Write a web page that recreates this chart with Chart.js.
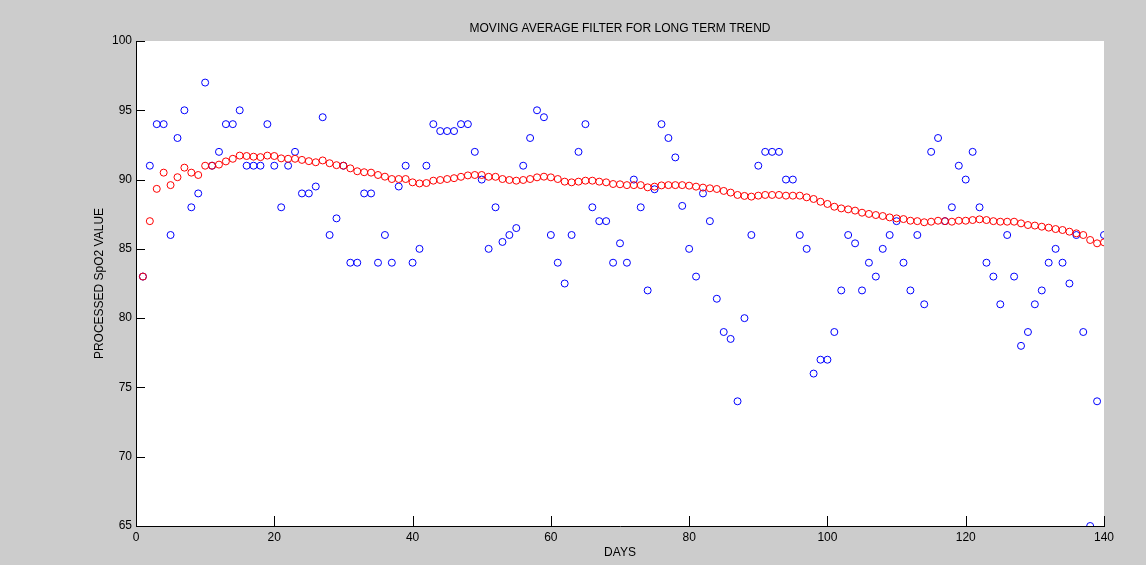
<!DOCTYPE html>
<html>
<head>
<meta charset="utf-8">
<style>
  html, body { margin: 0; padding: 0; background: #cccccc; }
  #wrap { width: 1146px; height: 565px; }
</style>
<script src="https://cdn.jsdelivr.net/npm/chart.js@4.4.1/dist/chart.umd.min.js"></script>
</head>
<body>
<div id="wrap"><canvas id="c" width="1146" height="565"></canvas></div>
<script>
const chartTitle = 'MOVING AVERAGE FILTER FOR LONG TERM TREND';
const xAxisTitle = 'DAYS';
const yAxisTitle = 'PROCESSED SpO2 VALUE';

const xTickValues = [0, 20, 40, 60, 80, 100, 120, 140];
const yTickValues = [65, 70, 75, 80, 85, 90, 95, 100];

const days = Array.from({length: 140}, (_, i) => i + 1);

const spo2Values = [
  83, 91, 94, 94, 86, 93, 95, 88, 89, 97,
  91, 92, 94, 94, 95, 91, 91, 91, 94, 91,
  88, 91, 92, 89, 89, 89.5, 94.5, 86, 87.2, 91,
  84, 84, 89, 89, 84, 86, 84, 89.5, 91, 84,
  85, 91, 94, 93.5, 93.5, 93.5, 94, 94, 92, 90,
  85, 88, 85.5, 86, 86.5, 91, 93, 95, 94.5, 86,
  84, 82.5, 86, 92, 94, 88, 87, 87, 84, 85.4,
  84, 90, 88, 82, 89.3, 94, 93, 91.6, 88.1, 85,
  83, 89, 87, 81.4, 79, 78.5, 74, 80, 86, 91,
  92, 92, 92, 90, 90, 86, 85, 76, 77, 77,
  79, 82, 86, 85.4, 82, 84, 83, 85, 86, 87,
  84, 82, 86, 81, 92, 93, 87, 88, 91, 90,
  92, 88, 84, 83, 81, 86, 83, 78, 79, 81,
  82, 84, 85, 84, 82.5, 86, 79, 65, 74, 86
];

const trendValues = [
  83, 87, 89.33, 90.5, 89.6, 90.17, 90.86, 90.5, 90.33, 91,
  91, 91.08, 91.31, 91.5, 91.73, 91.7, 91.65, 91.62, 91.73, 91.7,
  91.53, 91.5, 91.5, 91.42, 91.33, 91.25, 91.38, 91.18, 91.04, 91.0,
  90.81, 90.6, 90.53, 90.5, 90.33, 90.21, 90.04, 90.04, 90.04, 89.8,
  89.72, 89.75, 89.92, 89.97, 90.04, 90.1, 90.2, 90.3, 90.33, 90.33,
  90.2, 90.2, 90.04, 89.97, 89.92, 89.97, 90.04, 90.16, 90.21, 90.16,
  90.04, 89.85, 89.8, 89.85, 89.92, 89.92, 89.85, 89.8, 89.68, 89.66,
  89.6, 89.6, 89.6, 89.44, 89.49, 89.58, 89.6, 89.6, 89.6, 89.56,
  89.49, 89.42, 89.37, 89.32, 89.18, 89.06, 88.89, 88.82, 88.77, 88.84,
  88.89, 88.89, 88.89, 88.84, 88.84, 88.84, 88.72, 88.6, 88.4, 88.24,
  88.04, 87.92, 87.85, 87.76, 87.61, 87.52, 87.44, 87.37, 87.27, 87.2,
  87.15, 87.03, 87.0, 86.92, 86.96, 87.03, 87.0, 86.96, 87.03, 87.03,
  87.08, 87.13, 87.08, 87.0, 86.96, 86.96, 86.96, 86.84, 86.72, 86.68,
  86.6, 86.53, 86.43, 86.36, 86.24, 86.12, 86.0, 85.64, 85.4, 85.47
];

const FONT = "'Liberation Sans', Arial, Helvetica, sans-serif";

const backgroundPlugin = {
  id: 'bg',
  beforeDraw(chart) {
    const {ctx, chartArea: a} = chart;
    ctx.save();
    ctx.fillStyle = '#cccccc';
    ctx.fillRect(0, 0, chart.width, chart.height);
    ctx.fillStyle = '#ffffff';
    ctx.fillRect(a.left, a.top, a.right - a.left, a.bottom - a.top);
    ctx.restore();
  }
};

const innerTicksPlugin = {
  id: 'innerTicks',
  afterDraw(chart) {
    const {ctx, chartArea: a, scales} = chart;
    ctx.save();
    ctx.strokeStyle = '#000000';
    ctx.lineWidth = 1;
    ctx.beginPath();
    scales.x.ticks.forEach(t => {
      const px = Math.round(scales.x.getPixelForValue(t.value)) + 0.5;
      ctx.moveTo(px, a.bottom);
      ctx.lineTo(px, a.bottom - 10);
    });
    scales.y.ticks.forEach(t => {
      const py = Math.round(scales.y.getPixelForValue(t.value)) + 0.5;
      ctx.moveTo(a.left, py);
      ctx.lineTo(a.left + 9, py);
    });
    ctx.stroke();
    ctx.restore();
  }
};

const ctx = document.getElementById('c').getContext('2d');
new Chart(ctx, {
  type: 'scatter',
  data: {
    datasets: [
      {
        label: 'Trend',
        data: days.map((d, i) => ({x: d, y: trendValues[i]})),
        showLine: false,
        pointStyle: 'circle',
        pointRadius: 3.5,
        pointBorderWidth: 1,
        pointBorderColor: '#ff0000',
        pointBackgroundColor: 'rgba(0,0,0,0)'
      },
      {
        label: 'SpO2',
        data: days.map((d, i) => ({x: d, y: spo2Values[i]})),
        showLine: false,
        pointStyle: 'circle',
        pointRadius: 3.5,
        pointBorderWidth: 1,
        pointBorderColor: '#0000ff',
        pointBackgroundColor: 'rgba(0,0,0,0)'
      }
    ]
  },
  options: {
    responsive: false,
    animation: false,
    events: [],
    layout: { padding: { left: 0, right: 42, top: 0, bottom: 0 } },
    plugins: {
      legend: { display: false },
      tooltip: { enabled: false },
      title: {
        display: true,
        fullSize: false,
        text: chartTitle,
        color: '#000000',
        font: { family: FONT, size: 12, weight: 'normal' },
        padding: { top: 21, bottom: 5.6 }
      }
    },
    scales: {
      x: {
        type: 'linear',
        min: 0,
        max: 140,
        afterBuildTicks(scale) { scale.ticks = xTickValues.map(v => ({value: v})); },
        afterFit(scale) { scale.height = 39; },
        grid: { display: false, drawTicks: false },
        border: { display: true, color: '#000000', width: 1 },
        ticks: {
          color: '#000000',
          font: { family: FONT, size: 12 },
          padding: 4,
          maxRotation: 0,
          autoSkip: false
        },
        title: {
          display: true,
          text: xAxisTitle,
          color: '#000000',
          font: { family: FONT, size: 12 },
          padding: { top: 0, bottom: 5 }
        }
      },
      y: {
        type: 'linear',
        min: 65,
        max: 100,
        afterBuildTicks(scale) { scale.ticks = yTickValues.map(v => ({value: v})); },
        afterFit(scale) { scale.width = 136; },
        grid: { display: false, drawTicks: false },
        border: { display: true, color: '#000000', width: 1 },
        ticks: {
          color: '#000000',
          font: { family: FONT, size: 12 },
          padding: 4,
          autoSkip: false
        },
        title: {
          display: true,
          text: yAxisTitle,
          color: '#000000',
          font: { family: FONT, size: 12 },
          padding: { top: 92, bottom: 0 }
        }
      }
    }
  },
  plugins: [backgroundPlugin, innerTicksPlugin]
});
</script>
</body>
</html>
